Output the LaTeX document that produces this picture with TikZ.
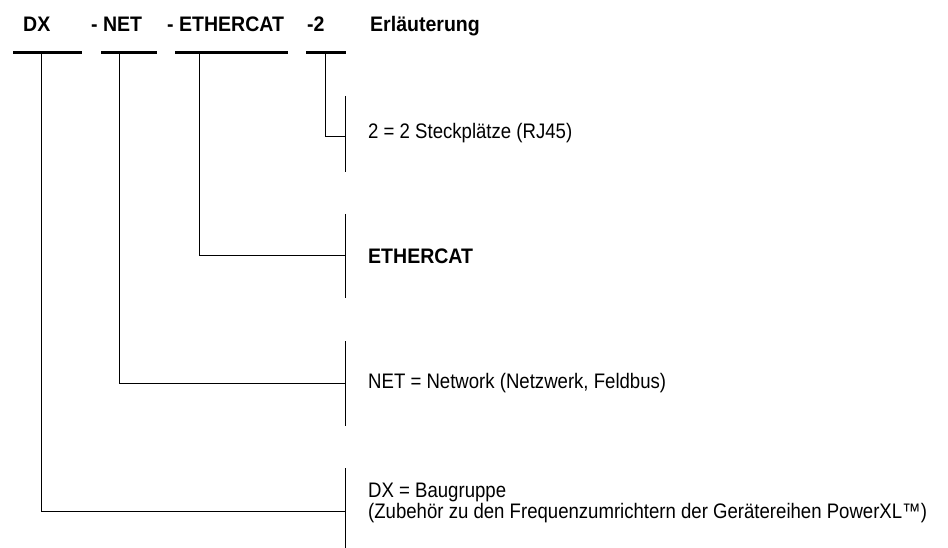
\documentclass[tikz,border=0pt]{standalone}
\usepackage{fontspec}
\setmainfont{Liberation Sans}
\newfontfamily\descfont[FakeStretch=0.885]{Liberation Sans}
\newfontfamily\headfont[FakeStretch=0.93]{Liberation Sans}
\begin{document}
\begin{tikzpicture}[x=1pt,y=-1pt,
  head/.style={inner sep=0pt, anchor=base west, font=\fontsize{21}{23}\selectfont\headfont\bfseries},
  desc/.style={inner sep=0pt, anchor=base west, font=\fontsize{21}{23}\selectfont\descfont},
  bar/.style={line width=3pt},
  conn/.style={line width=1pt}]
\useasboundingbox[fill=white] (0,0) rectangle (948,548);
% header
\node[head] (hDX)  at (23,32)  {DX};
\node[head] (hNET) at (91,32)  {- NET};
\node[head] (hETH) at (167,32) {- ETHERCAT};
\node[head] (h2)   at (307,32) {-2};
\node[head] (hErl) at (370,32) {Erläuterung};
% bars
\coordinate (b1l) at (13,53);  \coordinate (b1r) at (82,53);
\coordinate (b2l) at (101,53); \coordinate (b2r) at (157,53);
\coordinate (b3l) at (175,53); \coordinate (b3r) at (288,53);
\coordinate (b4l) at (306,53); \coordinate (b4r) at (346,53);
\draw[bar] (b1l) -- (b1r);
\draw[bar] (b2l) -- (b2r);
\draw[bar] (b3l) -- (b3r);
\draw[bar] (b4l) -- (b4r);
% drop points
\coordinate (d1) at (41,54);
\coordinate (d2) at (119,54);
\coordinate (d3) at (199,54);
\coordinate (d4) at (325,54);
% vertical segments
\coordinate (s1t) at (345,96);  \coordinate (s1b) at (345,172); \coordinate (s1m) at (345,137);
\coordinate (s2t) at (345,214); \coordinate (s2b) at (345,298); \coordinate (s2m) at (345,256);
\coordinate (s3t) at (345,341); \coordinate (s3b) at (345,426); \coordinate (s3m) at (345,383);
\coordinate (s4t) at (345,468); \coordinate (s4b) at (345,548); \coordinate (s4m) at (345,511);
\draw[conn] (s1t) -- (s1b);
\draw[conn] (s2t) -- (s2b);
\draw[conn] (s3t) -- (s3b);
\draw[conn] (s4t) -- (s4b);
\draw[conn] (d4) |- (s1m);
\draw[conn] (d3) |- (s2m);
\draw[conn] (d2) |- (s3m);
\draw[conn] (d1) |- (s4m);
% descriptions
\node[desc] (t1) at (368,139) {2 = 2 Steckplätze (RJ45)};
\node[head] (t2) at (368,263) {ETHERCAT};
\node[desc] (t3) at (368,388) {NET = Network (Netzwerk, Feldbus)};
\node[desc] (t4a) at (368,497) {DX = Baugruppe};
\node[desc] (t4b) at (368,518) {(Zubehör zu den Frequenzumrichtern der Gerätereihen PowerXL™)};
\end{tikzpicture}
\end{document}
